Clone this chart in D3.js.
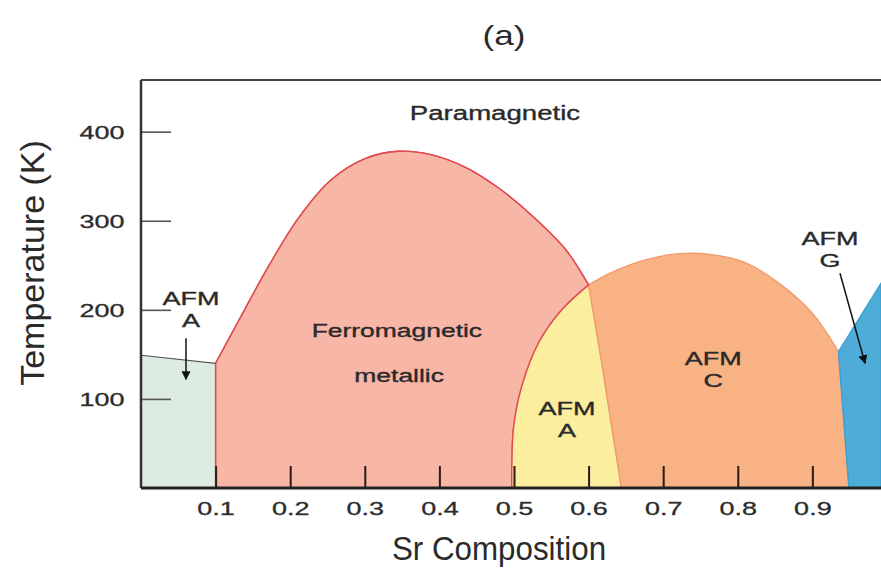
<!DOCTYPE html>
<html>
<head>
<meta charset="utf-8">
<script src="https://cdn.jsdelivr.net/npm/d3@7"></script>
<style>
  body { margin: 0; background: #fff; }
  text { font-family: "Liberation Sans", Arial, sans-serif; fill: #2a2a2a; }
</style>
</head>
<body>
<script>
// phase boundaries, [Sr composition, temperature K]
const afmALeftTop = [[0, 149], [0.1, 140]];
const fmDome = [[0.1, 140], [0.131, 188], [0.171, 249], [0.211, 303], [0.255, 346], [0.301, 370],
                [0.345, 378], [0.390, 374], [0.435, 360], [0.479, 337], [0.524, 306], [0.569, 268], [0.6, 228]];
const fmAfmA = [[0.6, 228], [0.564, 200], [0.533, 163], [0.51, 113], [0.4995, 69], [0.497, 24], [0.497, 0]];
const afmAC = [[0.6, 228], [0.617, 144], [0.631, 69], [0.644, 0]];
const afmCDome = [[0.6, 228], [0.631, 242], [0.676, 256], [0.721, 263], [0.765, 262], [0.81, 253],
                  [0.855, 230], [0.899, 197], [0.935, 153]];
const afmCG = [[0.935, 153], [0.942, 76], [0.949, 0]];
const afmGTop = [[0.935, 153], [0.992, 230]];

const xTicks = [0.1, 0.2, 0.3, 0.4, 0.5, 0.6, 0.7, 0.8, 0.9];
const yTicks = [100, 200, 300, 400];

// annotations: text lines, anchor (data coords)
const labels = [
  {lines: ['Paramagnetic'], x: 0.4745, y: 413, size: 20, sx: 1.38},
  {lines: ['Ferromagnetic'], x: 0.343, y: 169.5, size: 18, sx: 1.47},
  {lines: ['metallic'], x: 0.346, y: 119, size: 18, sx: 1.47},
  {lines: ['AFM', 'A'], x: 0.067, y: 205, size: 18, sx: 1.5},
  {lines: ['AFM', 'A'], x: 0.571, y: 82, size: 18, sx: 1.5},
  {lines: ['AFM', 'C'], x: 0.767, y: 138, size: 18, sx: 1.5},
  {lines: ['AFM', 'G'], x: 0.9236, y: 273, size: 18, sx: 1.5}
];
const arrows = [
  {from: [0.0603, 168], to: [0.0603, 122]},
  {from: [0.937, 241], to: [0.9706, 140]}
];

const width = 881, height = 573;
const margin = {top: 80, right: 0, bottom: 85, left: 141};

const svg = d3.select('body').append('svg').attr('width', width).attr('height', height);

const x = d3.scaleLinear().domain([0, 0.992]).range([margin.left, width - margin.right]);
const y = d3.scaleLinear().domain([0, 458]).range([height - margin.bottom, margin.top]);

const line = d3.line().x(d => x(d[0])).y(d => y(d[1])).curve(d3.curveCatmullRom.alpha(0.5));
const straight = d3.line().x(d => x(d[0])).y(d => y(d[1]));

// join several segments into one closed outline
function seg(s) {
  if (s.length === 1) return 'M' + x(s[0][0]) + ',' + y(s[0][1]);
  return s.length > 2 ? line(s) : straight(s);
}
function outline(segs) {
  return segs.map((s, i) => {
    const p = seg(s);
    return i === 0 ? p : 'L' + p.slice(1);
  }).join('') + 'Z';
}
const rev = a => a.slice().reverse();

const defs = svg.append('defs');
defs.append('clipPath').attr('id', 'plot')
  .append('rect').attr('x', margin.left).attr('y', margin.top)
  .attr('width', width - margin.left - margin.right).attr('height', height - margin.top - margin.bottom);
defs.append('marker').attr('id', 'head').attr('viewBox', '0 0 10 10')
  .attr('refX', 9).attr('refY', 5).attr('markerWidth', 9).attr('markerHeight', 9)
  .attr('markerUnits', 'userSpaceOnUse').attr('orient', 'auto')
  .append('path').attr('d', 'M0,0L10,5L0,10Z').attr('fill', '#111');

const grp = svg.append('g').attr('clip-path', 'url(#plot)');

const regions = [
  {d: outline([[[0, 0]], afmALeftTop, [[0.1, 0]]]), fill: '#dcece2', stroke: 'none'},
  {d: outline([[[0.1, 0]], fmDome, fmAfmA]), fill: '#f8b6a6', stroke: '#e04c52'},
  {d: outline([fmAfmA, [[0.644, 0]], rev(afmAC)]), fill: '#fbee9e', stroke: '#f0a878'},
  {d: outline([afmCDome, afmCG, rev(afmAC)]), fill: '#f8b283', stroke: '#f09a6c'},
  {d: outline([afmGTop, [[0.992, 0]], rev(afmCG)]), fill: '#4dacd8', stroke: '#3c9fd0'}
];
grp.selectAll('path.region').data(regions).join('path')
  .attr('class', 'region')
  .attr('d', d => d.d).attr('fill', d => d.fill)
  .attr('stroke', d => d.stroke).attr('stroke-width', 1.3);

// red FM boundary on top
grp.append('path').attr('d', straight([[0.1, 0], [0.1, 140]]) + 'L' + line(fmDome).slice(1) + 'L' + line(fmAfmA).slice(1))
  .attr('fill', 'none').attr('stroke', '#e04c52').attr('stroke-width', 1.4);
grp.append('path').attr('d', straight(afmALeftTop)).attr('fill', 'none').attr('stroke', '#555').attr('stroke-width', 1.2);

// axes
const xAxis = svg.append('g').attr('transform', 'translate(0,' + y(0) + ')')
  .call(d3.axisBottom(x).tickValues(xTicks).tickFormat(d3.format('.1f')).tickSize(-22).tickSizeOuter(0).tickPadding(14));
xAxis.select('.domain').remove();
xAxis.selectAll('.tick line').attr('stroke', '#2a1a1a').attr('stroke-width', 2);
xAxis.selectAll('.tick text').attr('font-size', 18).attr('fill', '#333')
  .attr('stroke', '#333').attr('stroke-width', 0.3)
  .attr('transform', 'scale(1.5,1)');

const yAxis = svg.append('g').attr('transform', 'translate(' + x(0) + ',0)')
  .call(d3.axisLeft(y).tickValues(yTicks).tickSize(-30).tickSizeOuter(0));
yAxis.select('.domain').remove();
yAxis.selectAll('.tick line').attr('stroke', '#555').attr('stroke-width', 1.6);
yAxis.selectAll('.tick text').attr('font-size', 18).attr('fill', '#333')
  .attr('stroke', '#333').attr('stroke-width', 0.3)
  .attr('x', -11).attr('dy', '0.36em').attr('transform', 'scale(1.5,1)');

// frame: left, bottom, top
svg.append('line').attr('x1', x(0)).attr('x2', x(0)).attr('y1', y(458)).attr('y2', y(0))
  .attr('stroke', '#333').attr('stroke-width', 2.5);
svg.append('line').attr('x1', x(0)).attr('x2', width).attr('y1', y(0)).attr('y2', y(0))
  .attr('stroke', '#222').attr('stroke-width', 2.8);
svg.append('line').attr('x1', x(0)).attr('x2', width).attr('y1', y(458)).attr('y2', y(458))
  .attr('stroke', '#444').attr('stroke-width', 2);

// labels
labels.forEach(l => {
  l.lines.forEach((t, i) => {
    svg.append('text')
      .attr('transform', 'translate(' + x(l.x) + ',' + (y(l.y) + i * 22) + ') scale(' + l.sx + ',1)')
      .attr('text-anchor', 'middle').attr('font-size', l.size)
      .attr('stroke', '#2a2a2a').attr('stroke-width', 0.35).text(t);
  });
});

svg.selectAll('line.arrow').data(arrows).join('line').attr('class', 'arrow')
  .attr('x1', d => x(d.from[0])).attr('y1', d => y(d.from[1]))
  .attr('x2', d => x(d.to[0])).attr('y2', d => y(d.to[1]))
  .attr('stroke', '#111').attr('stroke-width', 1.5).attr('marker-end', 'url(#head)');

// titles
svg.append('text').attr('transform', 'translate(504,45) scale(1.3,1)')
  .attr('text-anchor', 'middle').attr('font-size', 27).text('(a)');
svg.append('text').attr('transform', 'translate(44,263) rotate(-90)')
  .attr('text-anchor', 'middle').attr('font-size', 34).text('Temperature (K)');
svg.append('text').attr('transform', 'translate(499,560) scale(0.95,1)')
  .attr('text-anchor', 'middle').attr('font-size', 33).text('Sr Composition');
</script>
</body>
</html>
